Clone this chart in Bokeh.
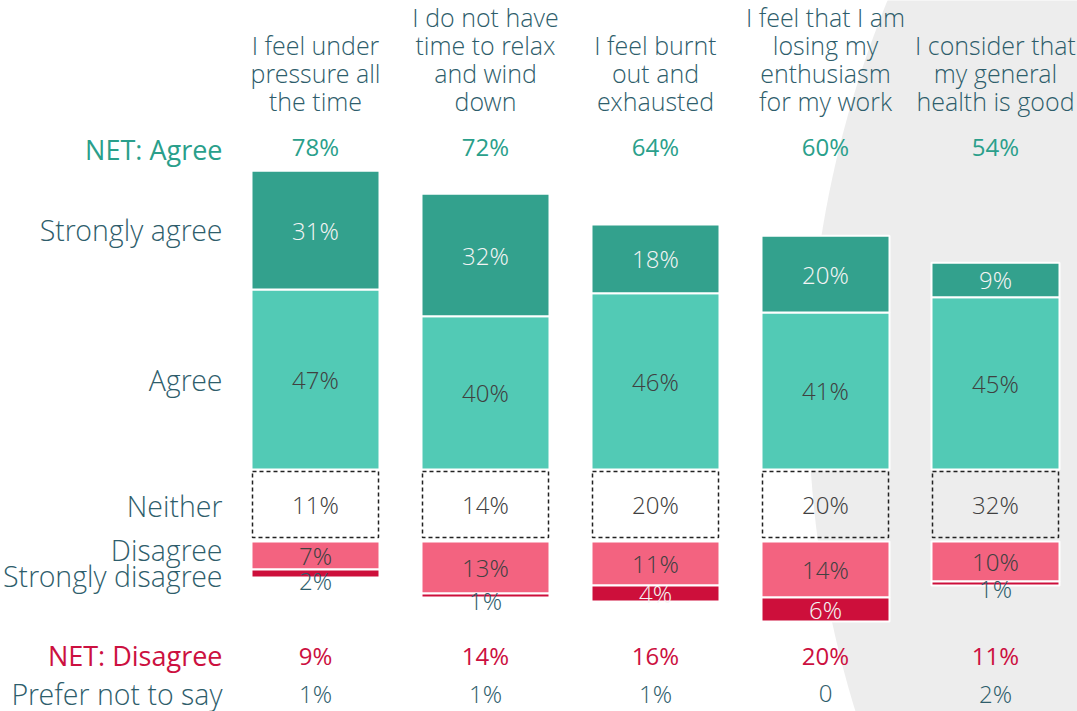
import numpy as np
from bokeh.plotting import figure
from bokeh.models import Range1d
from bokeh.core.properties import value
from bokeh.embed import file_html
from bokeh.resources import INLINE

# ---------------- data ----------------
statements = [
    "I feel under\npressure all\nthe time",
    "I do not have\ntime to relax\nand wind\ndown",
    "I feel burnt\nout and\nexhausted",
    "I feel that I am\nlosing my\nenthusiasm\nfor my work",
    "I consider that\nmy general\nhealth is good",
]
strongly_agree = [31, 32, 18, 20, 9]
agree = [47, 40, 46, 41, 45]
neither = [11, 14, 20, 20, 32]
disagree = [7, 13, 11, 14, 10]
strongly_disagree = [2, 1, 4, 6, 1]
net_agree = [78, 72, 64, 60, 54]
net_disagree = [9, 14, 16, 20, 11]
prefer_not = ["1%", "1%", "1%", "0", "2%"]
row_labels = ["NET: Agree", "Strongly agree", "Agree", "Neither", "Disagree",
              "Strongly disagree", "NET: Disagree", "Prefer not to say"]

# ---------------- style / layout ----------------
FONT_L = value("'Open Sans Light', 'Open Sans'")
FONT_R = value("Open Sans")
C_SA = "#33A18D"
C_A = "#52CAB5"
C_D = "#F36380"
C_SD = "#CD0F3B"
C_LABEL = "#2E5D6B"
C_NETA = "#2A9F8B"
C_NETD = "#CC1040"
C_VAL = "#404040"
C_BG = "#EDEDED"

W_PX, H_PX = 1077, 711

X0, DX, BAR_W = 315, 170, 128
AG_BASE, AG_K = 469, 3.83
D_BASE, D_K = 541, 4.0
N_TOP, N_BOT, N_W = 471, 537, 126

n = len(statements)
xc = np.array([X0 + DX * i for i in range(n)], dtype=float)
sa = np.array(strongly_agree, float)
ag = np.array(agree, float)
di = np.array(disagree, float)
sd = np.array(strongly_disagree, float)

p = figure(width=W_PX, height=H_PX, x_range=Range1d(0, W_PX), y_range=Range1d(H_PX, 0),
           x_axis_type=None, y_axis_type=None, toolbar_location=None,
           output_backend="svg", min_border=0)
p.outline_line_color = None
p.grid.visible = False
p.background_fill_color = "white"

# background curved shape
cx, cy, R = 1860, 400, 1052
th = np.linspace(0, 2 * np.pi, 400)
p.patch(cx + R * np.cos(th), cy + R * np.sin(th), fill_color=C_BG, line_color=None)

# agree stack
a_top = AG_BASE - ag * AG_K
sa_top = a_top - sa * AG_K
p.quad(left=xc - BAR_W / 2, right=xc + BAR_W / 2, top=a_top, bottom=np.full(n, AG_BASE),
       fill_color=C_A, line_color="white", line_width=2)
p.quad(left=xc - BAR_W / 2, right=xc + BAR_W / 2, top=sa_top, bottom=a_top,
       fill_color=C_SA, line_color="white", line_width=2)

# neither boxes
p.quad(left=xc - N_W / 2, right=xc + N_W / 2, top=np.full(n, N_TOP), bottom=np.full(n, N_BOT),
       fill_color=None, line_color="#222222", line_width=1.5, line_dash="4 3")

# disagree stack
d_bot = D_BASE + di * D_K
sd_bot = d_bot + sd * D_K
p.quad(left=xc - BAR_W / 2, right=xc + BAR_W / 2, top=np.full(n, D_BASE), bottom=d_bot,
       fill_color=C_D, line_color="white", line_width=2)
p.quad(left=xc - BAR_W / 2, right=xc + BAR_W / 2, top=d_bot, bottom=sd_bot,
       fill_color=C_SD, line_color="white", line_width=2)

def pct(v):
    return [f"{int(x)}%" for x in v]

def txt(x, y, t, color, size, align="center", font=FONT_L):
    p.text(x=list(x), y=list(y), text=list(t), text_align=align, text_baseline="middle",
           text_font=font, text_font_size=f"{size}px", text_color=color)

VS = 24
# values in bars
txt(xc, (sa_top + a_top) / 2, pct(sa), "#F4F4F4", VS)
txt(xc, (a_top + AG_BASE) / 2, pct(ag), C_VAL, VS)
txt(xc, np.full(n, (N_TOP + N_BOT) / 2), pct(neither), C_VAL, VS)
txt(xc, (D_BASE + d_bot) / 2, pct(di), C_VAL, VS)
big = sd >= 3
sd_y = np.where(big, (d_bot + sd_bot) / 2, sd_bot + 3)
for b, col in ((True, "#F4F4F4"), (False, C_LABEL)):
    m = big == b
    txt(xc[m], sd_y[m], [f"{int(v)}%" for v in sd[m]], col, VS)

# net rows
txt(xc, np.full(n, 146), pct(net_agree), C_NETA, VS, font=FONT_R)
txt(xc, np.full(n, 655), pct(net_disagree), C_NETD, VS, font=FONT_R)
txt(xc, np.full(n, 693), prefer_not, C_LABEL, VS)

# statement headers
hx, hy, ht = [], [], []
for i, s in enumerate(statements):
    lines = s.split("\n")
    for j, ln in enumerate(lines):
        hx.append(xc[i])
        hy.append(100 - (len(lines) - 1 - j) * 27.8)
        ht.append(ln)
txt(hx, hy, ht, C_LABEL, 25)

# row labels
lab_y = [148.5, 229.5, 379, 505, 549, 575, 655, 693]
lab_c = [C_NETA, C_LABEL, C_LABEL, C_LABEL, C_LABEL, C_LABEL, C_NETD, C_LABEL]
lab_f = [FONT_R, FONT_L, FONT_L, FONT_L, FONT_L, FONT_L, FONT_R, FONT_L]
lab_s = [27, 28.5, 28.5, 28.5, 28.5, 28.5, 27, 28.5]
for y, t, c, f, s in zip(lab_y, row_labels, lab_c, lab_f, lab_s):
    txt([222], [y], [t], c, s, align="right", font=f)

open("out.html", "w").write(file_html(p, INLINE))
